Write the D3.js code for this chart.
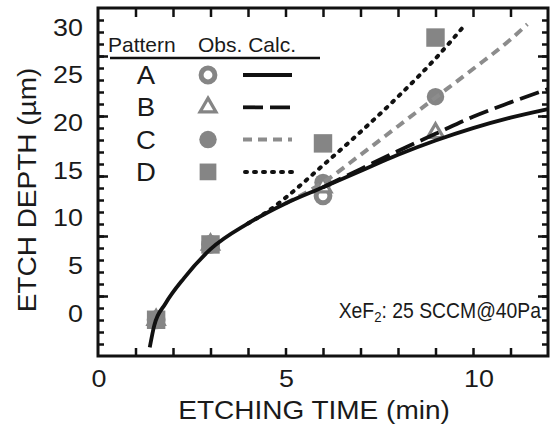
<!DOCTYPE html>
<html>
<head>
<meta charset="utf-8">
<script src="https://cdn.jsdelivr.net/npm/d3@7"></script>
<style>
  body { margin: 0; background: #fff; }
  text { font-family: "Liberation Sans", Arial, sans-serif; fill: #1a1a1a; }
</style>
</head>
<body>
<div id="chart"></div>
<script>
// observed etch depth (um) at etching time (min)
const obsTime = [1.55, 3, 6, 9];
const obsA = [-0.7, 7.2, 12.3, null];
const obsB = [-0.7, 7.2, 13.2, 18.9];
const obsC = [-0.7, 7.2, 13.7, 22.7];
const obsD = [-0.7, 7.2, 17.8, 28.9];

// calculated curves [time, depth]
const calcA = [[1.38, -3.6], [1.5, -1.3], [1.8, 1.0], [2.3, 3.7], [3, 6.7], [4, 9.4], [5, 11.5],
               [6, 13.2], [7, 14.9], [8, 16.6], [9, 18.1], [10, 19.4], [11, 20.5], [12, 21.4]];
const calcB = [[6, 13.2], [7, 15.1], [8, 17.0], [9, 18.8], [10, 20.6], [11, 22.1], [12, 23.5]];
const calcC = [[5, 11.5], [6, 13.7], [7, 16.6], [8, 19.6], [9, 22.6], [10, 25.6], [11, 28.7], [11.45, 30.3]];
const calcD = [[4, 9.4], [4.5, 10.6], [5, 12.1], [6, 15.5], [7, 19.0], [8, 22.7], [9, 26.7], [9.8, 30.3]];

const xTicks = [0, 5, 10];
const yTicks = [0, 5, 10, 15, 20, 25, 30];
const patterns = ["A", "B", "C", "D"];

const width = 554, height = 426;
const frame = { left: 98, right: 548, top: 8, bottom: 356 };
const gray = "#858585";

const svg = d3.select("#chart").append("svg")
    .attr("width", width)
    .attr("height", height);

const x = d3.scaleLinear().domain([0, 12]).range([frame.left, frame.right]);
const y = d3.scaleLinear().domain([-4.5, 32]).range([frame.bottom, frame.top]);
// the frame tick marks in the original do not line up with the labels
const yFrame = d3.scaleLinear().domain([0, 29]).range([frame.bottom, frame.top]);

// stretched text helper (the scan is a bit wide)
const label = (g, str, tx, ty, size, anchor, sx, rot) => {
    const t = g.append("text")
        .attr("transform", `translate(${tx},${ty})${rot ? ` rotate(${rot})` : ""} scale(${sx},1)`)
        .attr("text-anchor", anchor)
        .style("font-size", size + "px")
        .text(str);
    return t;
};

// frame ticks
const tickAxis = (axis, tx, ty) => {
    const g = svg.append("g").attr("transform", `translate(${tx},${ty})`).call(axis);
    g.select(".domain").remove();
    g.selectAll("line").attr("stroke", "#111").attr("stroke-width", 2.5);
    g.selectAll("text").remove();
};
tickAxis(d3.axisRight(yFrame).tickValues(d3.range(1, 29)).tickSize(6), frame.left, 0);
tickAxis(d3.axisRight(yFrame).tickValues([5, 10, 15, 20, 25]).tickSize(10), frame.left, 0);
tickAxis(d3.axisLeft(yFrame).tickValues(d3.range(1, 29)).tickSize(6), frame.right, 0);
tickAxis(d3.axisLeft(yFrame).tickValues([5, 10, 15, 20, 25]).tickSize(10), frame.right, 0);
tickAxis(d3.axisBottom(x).tickValues(d3.range(1, 12)).tickSize(9), 0, frame.top);
tickAxis(d3.axisTop(x).tickValues(d3.range(1, 12)).tickSize(8), 0, frame.bottom);

svg.append("rect")
    .attr("x", frame.left).attr("y", frame.top)
    .attr("width", frame.right - frame.left)
    .attr("height", frame.bottom - frame.top)
    .attr("fill", "none")
    .attr("stroke", "#111")
    .attr("stroke-width", 3);

// tick labels
yTicks.forEach(v => label(svg, v, 83, y(v) + 8.5, 24, "end", 1.12));
xTicks.forEach(v => label(svg, v, x(v) + (v === 10 ? 6 : 1), 387, 24, "middle", 1.12));

// axis titles
label(svg, "ETCHING TIME (min)", 314, 419, 25, "middle", 1.12);
label(svg, "ETCH DEPTH (\u00b5m)", 36, 190, 25, "middle", 1.12, -90);

// observed points
const marker = (type, size) => d3.symbol().type(type).size(size)();
const drawObs = (vals, type, size, style) => {
    obsTime.forEach((t, i) => {
        if (vals[i] == null) return;
        const p = svg.append("path")
            .attr("d", marker(type, size))
            .attr("transform", `translate(${x(t)},${y(vals[i])})`);
        style(p);
    });
};
const filled = p => p.attr("fill", gray);
const hollowCircle = p => p.attr("fill", "#fff").attr("stroke", gray).attr("stroke-width", 5);
const hollowTri = p => p.attr("fill", "#fff").attr("stroke", gray).attr("stroke-width", 3.2);

drawObs(obsC, d3.symbolCircle, 240, filled);
drawObs(obsA, d3.symbolCircle, 150, hollowCircle);
drawObs(obsB, d3.symbolTriangle, 110, hollowTri);
drawObs(obsD, d3.symbolSquare, 340, filled);

// calculated curves
const line = d3.line()
    .x(d => x(d[0]))
    .y(d => y(d[1]))
    .curve(d3.curveMonotoneX);

const styles = {
    A: { color: "#111", width: 3.8, dash: null, cap: "butt" },
    B: { color: "#111", width: 3.8, dash: "20,7", cap: "butt" },
    C: { color: "#8c8c8c", width: 4, dash: "9,6", cap: "butt" },
    D: { color: "#111", width: 4, dash: "2,7", cap: "round" }
};

[["C", calcC], ["B", calcB], ["D", calcD], ["A", calcA]].forEach(([k, data]) => {
    const s = styles[k];
    svg.append("path")
        .datum(data)
        .attr("d", line)
        .attr("fill", "none")
        .attr("stroke", s.color)
        .attr("stroke-width", s.width)
        .attr("stroke-dasharray", s.dash)
        .attr("stroke-linecap", s.cap);
});

// legend
const legend = svg.append("g").attr("class", "legend");
legend.append("text").attr("x", 108).attr("y", 52).style("font-size", "21px").text("Pattern");
legend.append("text").attr("x", 198).attr("y", 52).style("font-size", "21px").text("Obs. Calc.");
legend.append("line")
    .attr("x1", 110).attr("x2", 320)
    .attr("y1", 58).attr("y2", 58)
    .attr("stroke", "#111").attr("stroke-width", 2.5);

const legendMarks = {
    A: [d3.symbolCircle, 150, hollowCircle],
    B: [d3.symbolTriangle, 110, hollowTri],
    C: [d3.symbolCircle, 240, filled],
    D: [d3.symbolSquare, 280, filled]
};

patterns.forEach((k, i) => {
    const cy = 75 + i * 32.3;
    label(legend, k, 146, cy + 9, 25, "middle", 1.1);
    const [type, size, style] = legendMarks[k];
    style(legend.append("path")
        .attr("d", marker(type, size))
        .attr("transform", `translate(208,${cy})`));
    const s = styles[k];
    legend.append("line")
        .attr("x1", k === "D" ? 245 : 243).attr("x2", 292)
        .attr("y1", cy).attr("y2", cy)
        .attr("stroke", s.color)
        .attr("stroke-width", s.width)
        .attr("stroke-dasharray", s.dash)
        .attr("stroke-linecap", s.cap);
});

// condition note
const note = svg.append("text")
    .attr("transform", "translate(541,318) scale(0.88,1)")
    .attr("text-anchor", "end")
    .style("font-size", "22px");
note.append("tspan").text("XeF");
note.append("tspan").attr("dy", 4).style("font-size", "15px").text("2");
note.append("tspan").attr("dy", -4).text(": 25 SCCM@40Pa");
</script>
</body>
</html>
